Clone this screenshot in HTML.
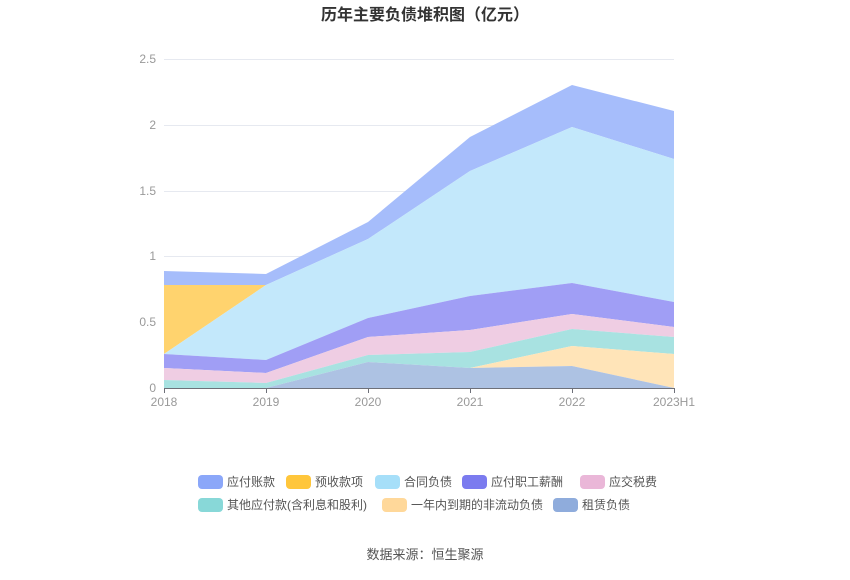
<!DOCTYPE html>
<html><head><meta charset="utf-8"><style>
body{margin:0;background:#fff;width:850px;height:575px;overflow:hidden;font-family:"Liberation Sans","Noto Sans CJK SC",sans-serif}
</style></head><body>
<svg width="850" height="575" xmlns="http://www.w3.org/2000/svg" font-family="Liberation Sans, Noto Sans CJK SC, sans-serif">
<text x="425" y="20" text-anchor="middle" font-size="16" font-weight="bold" fill="#333">历年主要负债堆积图（亿元）</text>
<g stroke="#e6e9f0" stroke-width="1">
<line x1="164" x2="674" y1="59.5" y2="59.5"/><line x1="164" x2="674" y1="125.5" y2="125.5"/>
<line x1="164" x2="674" y1="191.5" y2="191.5"/><line x1="164" x2="674" y1="256.5" y2="256.5"/>
<line x1="164" x2="674" y1="322.5" y2="322.5"/>
</g>
<g font-size="12" fill="#999" text-anchor="end">
<text x="156" y="63">2.5</text><text x="156" y="129">2</text><text x="156" y="195">1.5</text>
<text x="156" y="260">1</text><text x="156" y="326">0.5</text><text x="156" y="392">0</text>
</g>
<!-- areas: x 164,266,368,470,572,674 -->
<polygon fill="#a6bdfb" points="164,271 266,274 368,222 470,137 572,85 674,111 674,159 572,127 470,171 368,239 266,285 164,285"/>
<polygon fill="#ffd36e" points="164,285 266,285 164,354"/>
<polygon fill="#c3e8fb" points="164,354 266,285 368,239 470,171 572,127 674,159 674,302 572,283 470,296 368,318 266,360"/>
<polygon fill="#a09ef5" points="164,354 266,360 368,318 470,296 572,283 674,302 674,327 572,314 470,330 368,337 266,373 164,368"/>
<polygon fill="#efcde3" points="164,368 266,373 368,337 470,330 572,314 674,327 674,337 572,329 470,352 368,355 266,383 164,380"/>
<polygon fill="#a8e2e1" points="164,380 266,383 368,355 470,352 572,329 674,337 674,354 572,346 470,368 368,362 266,388 164,388"/>
<polygon fill="#ffe4b8" points="470,368 572,346 674,354 674,388 572,366"/>
<polygon fill="#adc2e3" points="266,388 368,362 470,368 572,366 674,388"/>
<line x1="164" x2="674" y1="388.5" y2="388.5" stroke="#6e7079"/>
<g stroke="#6e7079"><line x1="164.5" x2="164.5" y1="388" y2="393"/><line x1="266.5" x2="266.5" y1="388" y2="393"/><line x1="368.5" x2="368.5" y1="388" y2="393"/><line x1="470.5" x2="470.5" y1="388" y2="393"/><line x1="572.5" x2="572.5" y1="388" y2="393"/><line x1="674.5" x2="674.5" y1="388" y2="393"/></g>
<g font-size="12" fill="#999" text-anchor="middle">
<text x="164" y="406">2018</text><text x="266" y="406">2019</text><text x="368" y="406">2020</text>
<text x="470" y="406">2021</text><text x="572" y="406">2022</text><text x="674" y="406">2023H1</text>
</g>
<g font-size="12" fill="#555">
<rect x="198" y="475" width="25" height="14" rx="4" fill="#8ba7f9"/><text x="227" y="486">应付账款</text>
<rect x="286" y="475" width="25" height="14" rx="4" fill="#ffc63b"/><text x="315" y="486">预收款项</text>
<rect x="375" y="475" width="25" height="14" rx="4" fill="#a6dff9"/><text x="404" y="486">合同负债</text>
<rect x="462" y="475" width="25" height="14" rx="4" fill="#7b7bef"/><text x="491" y="486">应付职工薪酬</text>
<rect x="580" y="475" width="25" height="14" rx="4" fill="#eab7d8"/><text x="609" y="486">应交税费</text>
<rect x="198" y="498" width="25" height="14" rx="4" fill="#88d8d8"/><text x="227" y="509">其他应付款(含利息和股利)</text>
<rect x="382" y="498" width="25" height="14" rx="4" fill="#ffd89a"/><text x="411" y="509">一年内到期的非流动负债</text>
<rect x="553" y="498" width="25" height="14" rx="4" fill="#8facdc"/><text x="582" y="509">租赁负债</text>
</g>
<text x="425" y="559" text-anchor="middle" font-size="13" fill="#555">数据来源：恒生聚源</text>
</svg>
</body></html>
